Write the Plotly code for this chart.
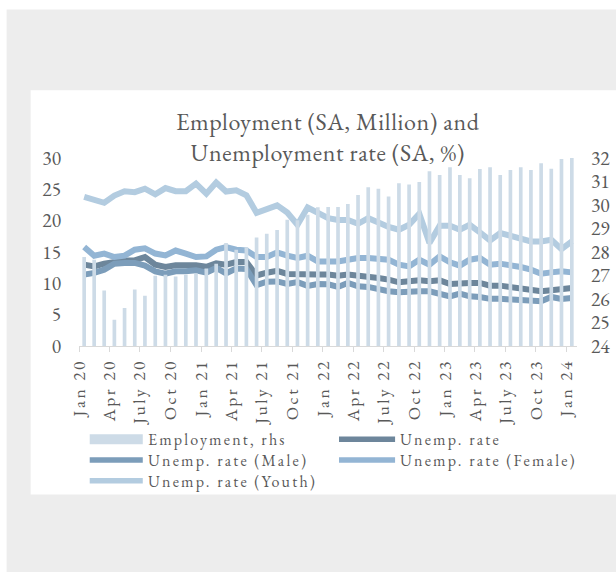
import pandas as pd
import plotly.graph_objects as go

# Monthly observations, Jan 2020 - Jan 2024
months = pd.date_range("2020-01-01", periods=49, freq="MS")

employment = [27.79, 27.67, 26.36, 25.12, 25.62, 26.40, 26.14, 26.99, 27.03, 26.96, 27.03, 27.08,
              27.30, 27.50, 28.38, 28.10, 28.20, 28.62, 28.78, 28.94, 29.37, 29.35, 29.58, 29.90,
              29.91, 29.91, 30.04, 30.43, 30.76, 30.69, 30.36, 30.93, 30.87, 30.98, 31.44, 31.28,
              31.61, 31.28, 31.14, 31.53, 31.61, 31.28, 31.49, 31.61, 31.49, 31.78, 31.54, 31.96,
              32.00]

unemp_total = [12.98, 12.71, 13.14, 13.50, 13.66, 13.66, 14.20, 12.98, 12.61, 12.87, 12.98, 12.87,
               12.65, 13.20, 12.98, 13.40, 13.40, 11.25, 11.70, 12.00, 11.50, 11.39, 11.39, 11.39,
               11.40, 11.23, 11.39, 11.23, 11.23, 10.86, 10.59, 10.16, 10.32, 10.48, 10.32, 10.48,
               9.90, 10.06, 10.06, 10.06, 9.63, 9.63, 9.43, 9.27, 9.11, 8.73, 8.89, 9.00,
               9.27]

unemp_male = [11.39, 11.66, 12.18, 13.14, 13.25, 13.25, 12.82, 11.91, 11.54, 11.91, 11.91, 12.07,
              11.70, 12.45, 11.60, 12.35, 12.30, 9.70, 10.25, 10.30, 9.90, 10.20, 9.60, 9.90,
              9.85, 9.43, 10.06, 9.53, 9.43, 9.00, 8.73, 8.57, 8.73, 8.73, 8.73, 8.36,
              7.93, 8.36, 7.93, 7.83, 7.52, 7.52, 7.40, 7.29, 7.29, 7.13, 7.83, 7.52,
              7.67]

unemp_female = [15.80, 14.41, 14.75, 14.20, 14.41, 15.37, 15.60, 14.75, 14.45, 15.23, 14.73, 14.20,
                14.30, 15.37, 15.80, 15.37, 15.25, 14.20, 14.20, 14.94, 14.41, 14.04, 14.41, 13.50,
                13.50, 13.50, 13.77, 14.04, 14.04, 13.89, 13.77, 12.98, 12.71, 13.77, 12.98, 14.30,
                13.35, 12.82, 13.77, 14.04, 12.98, 13.14, 12.98, 12.61, 12.18, 11.54, 11.75, 11.91,
                11.75]

unemp_youth = [23.80, 23.30, 22.85, 24.00, 24.70, 24.55, 25.10, 24.20, 25.20, 24.70, 24.70, 25.90,
               24.30, 26.08, 24.65, 24.85, 24.05, 21.25, 21.74, 22.45, 21.30, 19.35, 22.10, 21.30,
               20.40, 20.10, 20.10, 19.50, 20.40, 19.70, 19.00, 18.55, 19.35, 21.10, 16.43, 19.19,
               19.20, 18.55, 19.35, 18.12, 16.85, 18.03, 17.60, 16.96, 16.69, 16.69, 16.96, 15.45,
               16.69]

tick_dates = pd.date_range("2020-01-01", periods=17, freq="3MS")
tick_labels = ["Jan 20", "Apr 20", "July 20", "Oct 20", "Jan 21", "Apr 21", "July 21", "Oct 21",
               "Jan 22", "Apr 22", "July 22", "Oct 22", "Jan 23", "Apr 23", "July 23", "Oct 23",
               "Jan 24"]

legend_labels = ["Employment, rhs", "Unemp. rate", "Unemp. rate (Male)",
                 "Unemp. rate (Female)", "Unemp. rate (Youth)"]

FONT = "Garamond, 'EB Garamond', 'Liberation Serif', serif"
TEXT = "#595959"
BAR = "#cddbe7"
C_TOTAL = "#6d869b"
C_MALE = "#7c9dba"
C_FEMALE = "#93b5d4"
C_YOUTH = "#b3cce0"

W, H = 616, 572
L, R, T, B = 79.3, 576.7, 158.0, 346.5   # plot area in pixels


def px_x(p):
    return (p - L) / (R - L)


def px_y(p):
    return (B - p) / (B - T)


def spaced(s, px):
    return f'<span style="letter-spacing:{px}px">{s}</span>'


fig = go.Figure()

fig.add_trace(go.Bar(
    x=months, y=employment, yaxis="y2", name=legend_labels[0],
    marker=dict(color=BAR, line=dict(width=0)),
    xperiod="M1", xperiodalignment="middle", width=1000 * 3600 * 24 * 11,
    showlegend=False,
))

for vals, col, name in [(unemp_total, C_TOTAL, legend_labels[1]),
                        (unemp_male, C_MALE, legend_labels[2]),
                        (unemp_female, C_FEMALE, legend_labels[3]),
                        (unemp_youth, C_YOUTH, legend_labels[4])]:
    fig.add_trace(go.Scatter(
        x=months, y=vals, mode="lines", name=name,
        line=dict(color=col, width=6),
        xperiod="M1", xperiodalignment="middle",
        showlegend=False,
    ))

# background panels
shapes = [
    dict(type="rect", xref="paper", yref="paper",
         x0=px_x(31), x1=px_x(W + 5), y0=px_y(495.5), y1=px_y(90),
         fillcolor="white", line=dict(width=0), layer="below"),
    dict(type="rect", xref="paper", yref="paper",
         x0=px_x(-5), x1=px_x(7), y0=px_y(W + 10), y1=px_y(-5),
         fillcolor="white", line=dict(width=0), layer="below"),
    dict(type="rect", xref="paper", yref="paper",
         x0=px_x(-5), x1=px_x(W + 5), y0=px_y(9), y1=px_y(-5),
         fillcolor="white", line=dict(width=0), layer="below"),
]

# legend: two columns, three rows
LEG_FONT = 16
ROW_Y = [440, 460.8, 481.6]
columns = [
    dict(x0=90, x1=143, items=[(legend_labels[0], "bar", BAR),
                                (legend_labels[2], "line", C_MALE),
                                (legend_labels[4], "line", C_YOUTH)]),
    dict(x0=339, x1=395, items=[(legend_labels[1], "line", C_TOTAL),
                                 (legend_labels[3], "line", C_FEMALE)]),
]
annotations = []
for col in columns:
    lines = []
    for (label, kind, colr), yc in zip(col["items"], ROW_Y):
        if kind == "bar":
            shapes.append(dict(type="rect", xref="paper", yref="paper",
                               x0=px_x(col["x0"]), x1=px_x(col["x1"]),
                               y0=px_y(yc + 5), y1=px_y(yc - 5),
                               fillcolor=colr, line=dict(width=0)))
        else:
            shapes.append(dict(type="line", xref="paper", yref="paper",
                               x0=px_x(col["x0"]), x1=px_x(col["x1"]),
                               y0=px_y(yc), y1=px_y(yc),
                               line=dict(color=colr, width=5.5)))
        lines.append(spaced(label, 2.2))
    annotations.append(dict(xref="paper", yref="paper", x=px_x(col["x1"] + 4),
                            y=px_y(ROW_Y[0] - 11), text="<br>".join(lines),
                            showarrow=False, xanchor="left", yanchor="top", align="left",
                            borderpad=0,
                            font=dict(family=FONT, size=LEG_FONT, color=TEXT)))

fig.update_layout(
    width=W, height=H,
    margin=dict(l=L, r=W - R, t=T, b=H - B, pad=0, autoexpand=False),
    paper_bgcolor="#ededed",
    plot_bgcolor="rgba(0,0,0,0)",
    font=dict(family=FONT, color=TEXT, size=19),
    title=dict(text=spaced("Employment (SA, Million) and", 0.6) + "<br>"
               + spaced("Unemployment rate (SA, %)", 0.6),
               xref="container", yref="container", x=0.532, xanchor="center",
               y=1 - 130 / H, yanchor="top",
               font=dict(family=FONT, size=24, color=TEXT)),
    xaxis=dict(
        type="date", automargin=False,
        range=["2020-01-01", "2024-02-01"],
        tickmode="array", tickvals=tick_dates,
        ticktext=[spaced(t, 2.5) for t in tick_labels],
        tickangle=-90, ticks="outside", ticklen=5, tickcolor="#d9d9d9",
        showline=True, linecolor="#d9d9d9", linewidth=1,
        showgrid=False, zeroline=False,
        tickfont=dict(family=FONT, size=17.5, color=TEXT),
    ),
    yaxis=dict(
        automargin=False,
        range=[0, 30], dtick=5, showgrid=False, zeroline=False, showline=False,
        ticks="", ticklabelstandoff=17,
        tickfont=dict(family=FONT, size=19.5, color=TEXT),
    ),
    yaxis2=dict(
        automargin=False,
        range=[24, 32], dtick=1, overlaying="y", side="right",
        showgrid=False, zeroline=False, showline=False, ticks="",
        ticklabelstandoff=13,
        tickfont=dict(family=FONT, size=19.5, color=TEXT),
    ),
    shapes=shapes,
    annotations=annotations,
)

fig.write_html("out.html")
